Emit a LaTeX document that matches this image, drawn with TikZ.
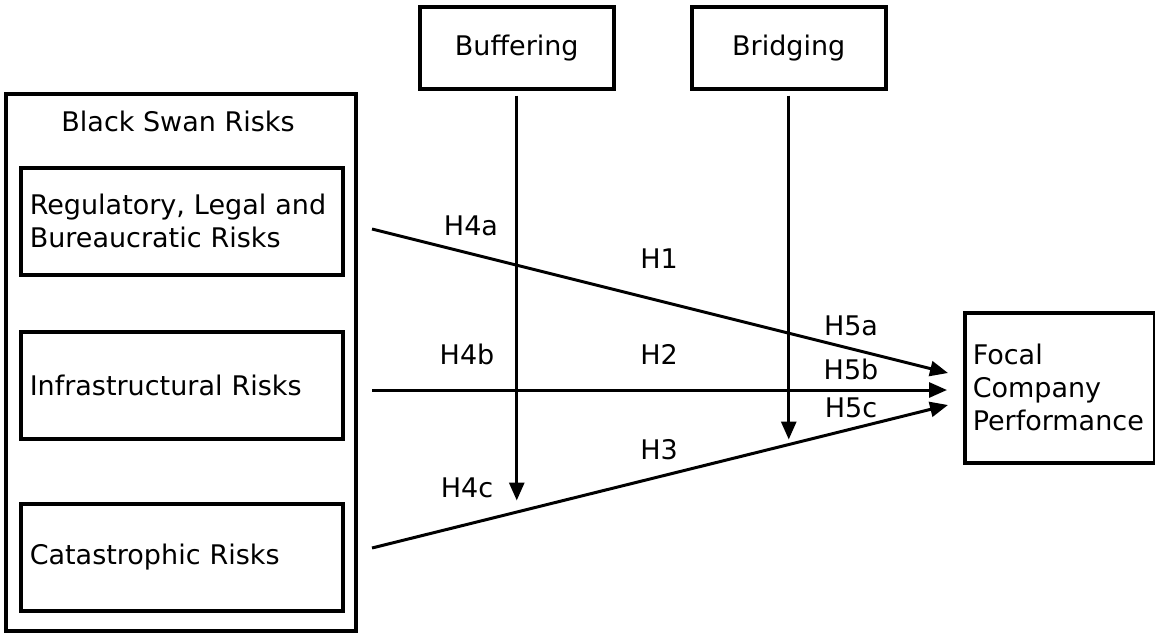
\documentclass[tikz,border=0pt]{standalone}
\usepackage{fontspec}
\setmainfont{DejaVu Sans}
\usetikzlibrary{arrows.meta,calc}
\begin{document}
\begin{tikzpicture}[x=1pt,y=-1pt,
  every node/.style={font=\fontsize{27}{33}\selectfont},
  box/.style={draw,line width=3.5pt,rectangle,inner sep=0pt},
  risk/.style={box,anchor=north west,minimum width=322pt,minimum height=107pt,
    text width=304pt,align=left,inner xsep=9pt},
  modbox/.style={box,anchor=north west,minimum width=194pt,minimum height=82pt},
  link/.style={line width=3pt,-{Triangle[length=18pt,width=15pt]}},
  hyp/.style={inner sep=0pt}]
\useasboundingbox (0,0) rectangle (1155,632);
% outer group of risk categories
\node[box,anchor=north west,minimum width=350pt,minimum height=537pt] (bsr) at (4,92) {};
\node[inner sep=0pt] (bsrtitle) at (178,121) {Black Swan Risks};
\node[risk] (reg) at (19,166) {Regulatory, Legal and\\Bureaucratic Risks};
\node[risk] (inf) at (19,330) {Infrastructural Risks};
\node[risk] (cat) at (19,502) {Catastrophic Risks};
% moderators
\node[modbox] (buf) at (418,5) {Buffering};
\node[modbox] (bri) at (690,5) {Bridging};
% outcome
\node[box,anchor=north west,minimum width=190pt,minimum height=150pt,
  text width=174pt,align=left,inner xsep=8pt] (fcp) at (963,311) {Focal\\Company\\Performance};
% connector end points
\coordinate (s1) at (372,229);
\coordinate (s2) at (372,390);
\coordinate (s3) at (372,548);
\coordinate (e1) at (948,373);
\coordinate (e2) at (947,390);
\coordinate (e3) at (948,405);
\coordinate (bufend) at ($(buf.south)+(0,410)$);
\coordinate (briend) at ($(bri.south)+(0,349)$);
% main effects
\draw[link] (s1) -- (e1);
\draw[link] (s2) -- (e2);
\draw[link] (s3) -- (e3);
% moderating effects
\draw[link] ($(buf.south)+(0,5)$) -- (bufend);
\draw[link] ($(bri.south)+(0,5)$) -- (briend);
% hypothesis labels
\node[hyp] (h4a) at (471,226) {H4a};
\node[hyp] (h1) at (659,259) {H1};
\node[hyp] (h4b) at (467,354) {H4b};
\node[hyp] (h2) at (659,354) {H2};
\node[hyp] (h3) at (659,450) {H3};
\node[hyp] (h4c) at (467,488) {H4c};
\node[hyp] (h5a) at (851,326) {H5a};
\node[hyp] (h5b) at (851,369) {H5b};
\node[hyp] (h5c) at (851,408) {H5c};
\end{tikzpicture}
\end{document}
